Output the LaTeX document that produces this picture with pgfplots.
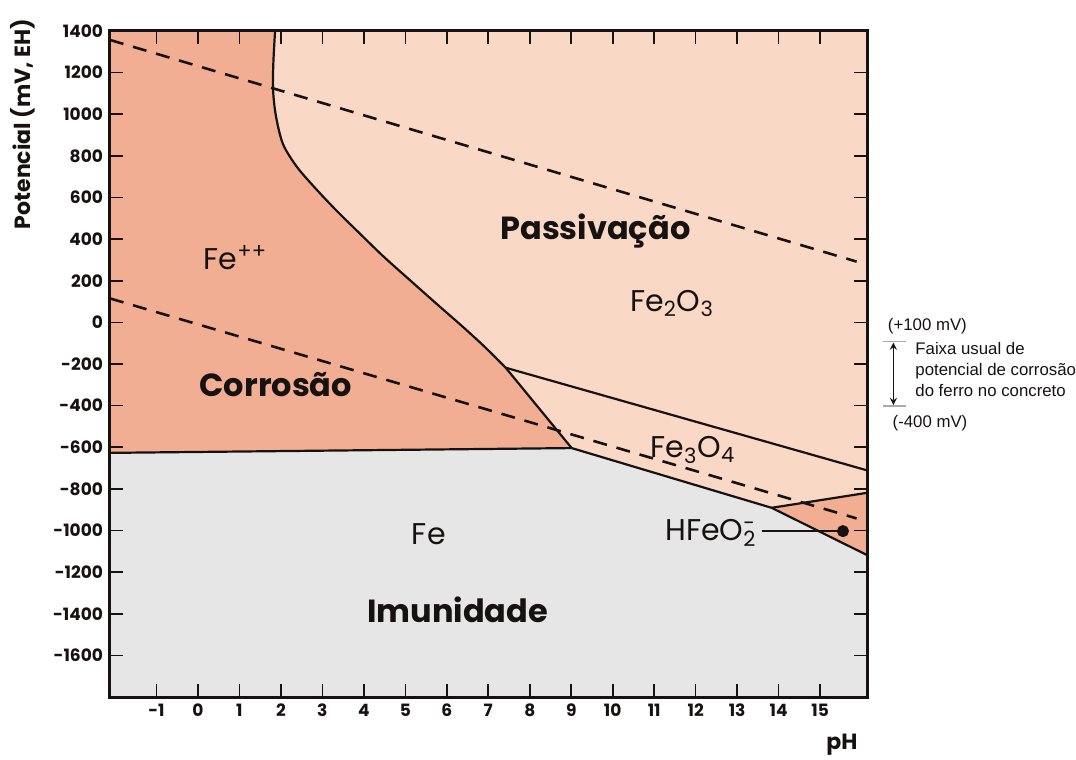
\documentclass[border=0pt]{standalone}
\usepackage{pgfplots}
\pgfplotsset{compat=1.18}
\usepackage{fontspec}
\setmainfont{Poppins}
\newfontfamily\arial{Liberation Sans}

\definecolor{corr}{RGB}{242,174,146}
\definecolor{pass}{RGB}{249,217,198}
\definecolor{imun}{RGB}{230,230,230}
\definecolor{ink}{RGB}{22,18,18}
\definecolor{guide}{RGB}{170,170,170}

\tikzset{
  lbl/.style={anchor=base west, inner sep=0pt, text=ink, font=\fontsize{15}{18}\selectfont},
  blbl/.style={anchor=base west, inner sep=0pt, text=ink, font=\bfseries\fontsize{16}{19}\selectfont},
  note/.style={text=ink, font=\arial\fontsize{8.4}{10}\selectfont},
}

\begin{document}
\begin{tikzpicture}[x=1pt,y=1pt]
\path[use as bounding box] (-55,-31.5) rectangle (483,348.5);
\begin{axis}[
  at={(0,0)}, anchor=south west,
  scale only axis, width=378.5pt, height=333pt,
  xmin=-2.12, xmax=16.13, ymin=-1800, ymax=1400,
  xtick={-1,0,...,15}, ytick={-1600,-1400,...,1400},
  tick align=inside, major tick length=6.5pt,
  axis line style={line width=1.5pt, ink},
  tick style={line width=0.8pt, ink},
  ticklabel style={font=\bfseries\fontsize{8.5}{10}\selectfont, text=ink},
  /pgf/number format/assume math mode=true,
  /pgf/number format/1000 sep={},
  axis background/.style={fill=imun},
  axis on top, clip=false,
]
% Fe++ (corrosion) field
\addplot[fill=corr, draw=none] coordinates {
  (-2.12,-627) (-2.12,1400) (1.86,1400) (1.82,1256) (1.81,1121) (1.88,992)
  (2.05,857) (2.39,746) (2.87,636) (3.35,535) (3.86,435) (4.46,319)
  (5.11,203) (5.76,88) (6.39,-22) (6.92,-119) (7.42,-218) (9.01,-604)
} -- cycle;
% Fe2O3 / Fe3O4 (passivation) field
\addplot[fill=pass, draw=none] coordinates {
  (1.86,1400) (16.13,1400) (16.13,-819) (13.83,-891) (9.01,-604) (7.42,-218)
  (6.92,-119) (6.39,-22) (5.76,88) (5.11,203) (4.46,319) (3.86,435)
  (3.35,535) (2.87,636) (2.39,746) (2.05,857) (1.88,992) (1.81,1121) (1.82,1256)
} -- cycle;
% HFeO2- field
\addplot[fill=corr, draw=none] coordinates {
  (13.83,-891) (16.13,-819) (16.13,-1118)
} -- cycle;

% phase boundaries
\addplot[ink, line width=1.1pt, smooth, tension=0.5] coordinates {
  (1.86,1400) (1.82,1256) (1.81,1121) (1.88,992) (2.05,857) (2.39,746)
  (2.87,636) (3.35,535) (3.86,435) (4.46,319) (5.11,203) (5.76,88)
  (6.39,-22) (6.92,-119) (7.42,-218)
};
\addplot[ink, line width=1.1pt] coordinates {(7.42,-218) (9.01,-604)};
\addplot[ink, line width=1.1pt] coordinates {(-2.12,-627) (9.01,-604)};
\addplot[ink, line width=1.1pt, line join=round] coordinates {(9.01,-604) (13.83,-891) (16.13,-1118)};
\addplot[ink, line width=1.1pt] coordinates {(7.42,-218) (16.13,-711)};
\addplot[ink, line width=1.1pt] coordinates {(13.83,-891) (16.13,-819)};

% water stability lines
\addplot[ink, line width=1.3pt, dash pattern=on 7pt off 5pt] coordinates {(-2.12,1357) (15.88,292)};
\addplot[ink, line width=1.3pt, dash pattern=on 7pt off 5pt] coordinates {(-2.12,115) (15.88,-942)};

% HFeO2- pointer
\addplot[ink, line width=1pt, mark=*, mark size=2.5pt, mark repeat=2, mark phase=2] coordinates {(13.59,-1003) (15.55,-1003)};

% field labels
\node[lbl] at (axis cs:0.13,256) {Fe\textsuperscript{++}};
\node[blbl] at (axis cs:7.28,400) {Passivação};
\node[lbl] at (axis cs:10.41,54) {Fe\textsubscript{2}O\textsubscript{3}};
\node[blbl] at (axis cs:0.03,-357) {Corrosão};
\node[lbl] at (axis cs:10.9,-651) {Fe\textsubscript{3}O\textsubscript{4}};
\node[lbl] at (axis cs:5.15,-1067) {Fe};
\node[blbl] at (axis cs:4.07,-1444) {Imunidade};
\node[lbl] at (axis cs:11.26,-1048) {HFeO\rlap{\textsuperscript{-}}\textsubscript{2}};
\end{axis}

% axis titles
\node[rotate=90, font=\bfseries\fontsize{11}{13}\selectfont, text=ink] at (-43.5,286.5) {Potencial (mV, EH)};
\node[font=\bfseries\fontsize{11}{13}\selectfont, text=ink] at (366,-24) {pH};

% usual corrosion potential band of steel in concrete
\draw[guide, line width=0.6pt] (386.5,177.7) -- (398,177.7);
\draw[guide, line width=0.6pt] (386.5,145.5) -- (398,145.5);
\draw[ink, line width=0.6pt, <->, >=stealth] (391.7,177.2) -- (391.7,146);
\node[note] at (408.7,185.5) {(+100 mV)};
\node[note] at (410,136.8) {(-400 mV)};
\node[note, anchor=base west, inner sep=0pt] at (402.5,171) {Faixa usual de};
\node[note, anchor=base west, inner sep=0pt] at (402.5,160.5) {potencial de corrosão};
\node[note, anchor=base west, inner sep=0pt] at (402.5,150) {do ferro no concreto};
\end{tikzpicture}
\end{document}
